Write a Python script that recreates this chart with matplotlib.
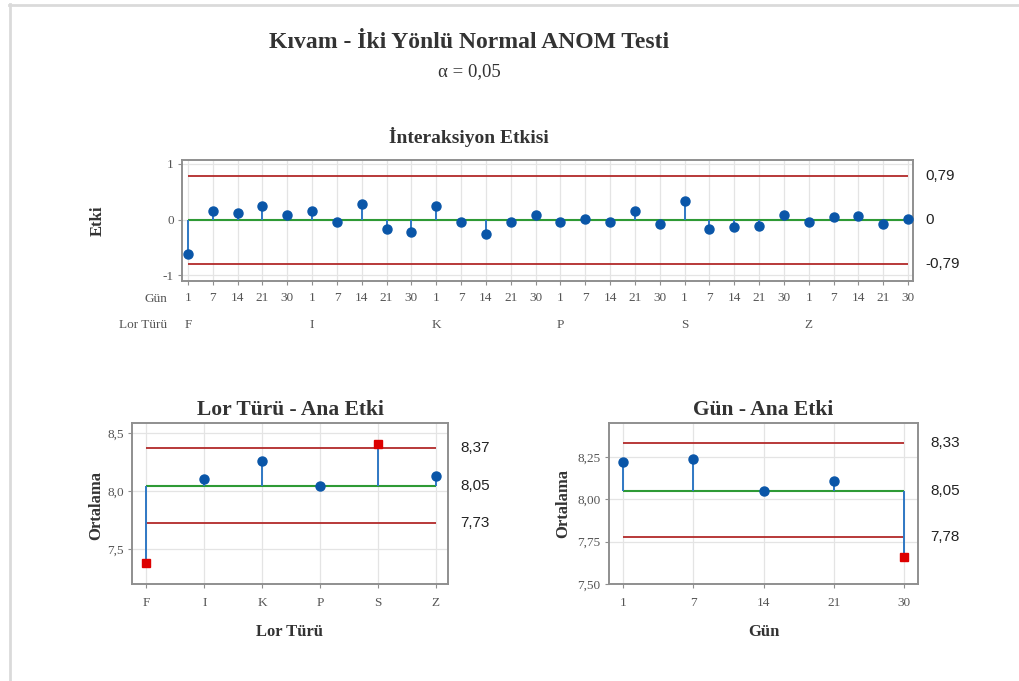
import matplotlib
matplotlib.use("Agg")
import matplotlib.pyplot as plt
from matplotlib.lines import Line2D
import numpy as np

plt.rcParams["font.family"] = ["Liberation Serif", "DejaVu Serif"]

W, H = 1019, 681

# interaction effects (Lor Türü x Gün)
lor_types = ["F", "I", "K", "P", "S", "Z"]
days = ["1", "7", "14", "21", "30"]
interaction = [
    -0.62, 0.15, 0.12, 0.25, 0.09,   # F
    0.15, -0.04, 0.28, -0.17, -0.23,  # I
    0.25, -0.04, -0.26, -0.04, 0.09,  # K
    -0.04, 0.02, -0.04, 0.15, -0.07,  # P
    0.34, -0.17, -0.14, -0.11, 0.09,  # S
    -0.04, 0.05, 0.06, -0.07, 0.02,   # Z
]
inter_limit = 0.79

# main effect means
lor_means = [7.38, 8.11, 8.26, 8.05, 8.41, 8.13]
lor_center, lor_udl, lor_ldl = 8.05, 8.37, 7.73

day_means = [8.22, 8.24, 8.05, 8.11, 7.66]
day_center, day_udl, day_ldl = 8.05, 8.33, 7.78

BLUE = "#0a56a8"
STEM = "#2f78c4"
RED_LINE = "#b22a2a"
GREEN = "#2e9a35"
RED_PT = "#dd0000"
GRID = "#e4e4e4"
FRAME = "#8f8f8f"
TICK_TXT = "#555555"
TXT = "#333333"
TICK_FS = 9.5


def px_axes(fig, x0, y0, x1, y1):
    return fig.add_axes([x0 / W, 1 - y1 / H, (x1 - x0) / W, (y1 - y0) / H])


def style_axes(ax):
    for s in ax.spines.values():
        s.set_color(FRAME)
        s.set_linewidth(1.4)
    ax.tick_params(colors=FRAME, labelcolor=TICK_TXT, labelsize=TICK_FS,
                   length=3, width=0.8, pad=3)
    ax.tick_params(axis="x", pad=6)
    ax.grid(True, color=GRID, linewidth=0.9)
    ax.set_axisbelow(True)


def right_label(ax, y, text):
    ax.annotate(text, xy=(1, y), xycoords=("axes fraction", "data"),
                xytext=(9, 0), textcoords="offset points", va="center",
                ha="left", fontsize=11, color="#222222",
                family=["Liberation Sans", "DejaVu Sans"])


def anom_panel(ax, values, center, udl, ldl):
    x = np.arange(len(values))
    v = np.asarray(values)
    out = (v > udl) | (v < ldl)
    ax.hlines([udl, ldl], x[0], x[-1], color=RED_LINE, lw=1.3, zorder=2)
    ax.hlines(center, x[0], x[-1], color=GREEN, lw=1.5, zorder=2)
    ax.vlines(x, center, v, color=STEM, lw=1.4, zorder=3)
    ax.plot(x[~out], v[~out], "o", color=BLUE, ms=6.5, zorder=4)
    ax.plot(x[out], v[out], "s", color=RED_PT, ms=6, zorder=4)
    return x


fig = plt.figure(figsize=(W / 100, H / 100), dpi=100)

# light page border
fig.add_artist(Line2D([9.5 / W, 9.5 / W], [0, 1 - 4 / H], transform=fig.transFigure,
                      color="#dadada", lw=2))
fig.add_artist(Line2D([9 / W, 1], [1 - 4.5 / H, 1 - 4.5 / H], transform=fig.transFigure,
                      color="#dadada", lw=2))

fig.text(469 / W, 1 - 42 / H, "Kıvam - İki Yönlü Normal ANOM Testi",
         ha="center", va="center", fontsize=17, fontweight="bold", color=TXT)
fig.text(469 / W, 1 - 72 / H, "α = 0,05", ha="center", va="center",
         fontsize=13.5, color=TXT)
fig.text(469 / W, 1 - 137 / H, "İnteraksiyon Etkisi", ha="center", va="center",
         fontsize=14, fontweight="bold", color=TXT)

# interaction panel
ax = px_axes(fig, 182, 160, 913, 281)
style_axes(ax)
x = anom_panel(ax, interaction, 0.0, inter_limit, -inter_limit)
ax.set_xlim(-0.24, len(interaction) - 1 + 0.2)
ax.set_ylim(-1.1, 1.07)
ax.set_yticks([-1, 0, 1])
ax.set_yticklabels(["-1", "0", "1"])
ax.set_xticks(x)
ax.set_xticklabels(days * len(lor_types))
ax.tick_params(axis="x", pad=5)
ax.set_ylabel("Etki", fontsize=12, fontweight="bold", color=TXT)
ax.yaxis.set_label_coords(-0.104, 0.5)
row_tf = ax.get_xaxis_transform()
ax.text(-0.02, -0.15, "Gün", transform=ax.transAxes, ha="right", va="center",
        fontsize=TICK_FS, color=TICK_TXT)
ax.text(-0.02, -0.36, "Lor Türü", transform=ax.transAxes, ha="right", va="center",
        fontsize=TICK_FS, color=TICK_TXT)
for i, lt in enumerate(lor_types):
    ax.text(i * len(days), -0.36, lt, transform=row_tf, ha="center", va="center",
            fontsize=TICK_FS, color=TICK_TXT)
right_label(ax, inter_limit, "0,79")
right_label(ax, 0, "0")
right_label(ax, -inter_limit, "-0,79")

# Lor Türü main effect
ax = px_axes(fig, 132, 423, 448, 584)
style_axes(ax)
x = anom_panel(ax, lor_means, lor_center, lor_udl, lor_ldl)
ax.set_xlim(-0.25, len(lor_means) - 1 + 0.21)
ax.set_ylim(7.2, 8.59)
ax.set_yticks([7.5, 8.0, 8.5])
ax.set_yticklabels(["7,5", "8,0", "8,5"])
ax.set_xticks(x)
ax.set_xticklabels(lor_types)
ax.set_title("Lor Türü - Ana Etki", fontsize=15.5, fontweight="bold", color=TXT, pad=6)
ax.set_ylabel("Ortalama", fontsize=12, fontweight="bold", color=TXT)
ax.yaxis.set_label_coords(-0.089, 0.49)
ax.set_xlabel("Lor Türü", fontsize=12, fontweight="bold", color=TXT)
ax.xaxis.set_label_coords(0.5, -0.248)
right_label(ax, lor_udl, "8,37")
right_label(ax, lor_center, "8,05")
right_label(ax, lor_ldl, "7,73")

# Gün main effect
ax = px_axes(fig, 609, 423, 918, 584)
style_axes(ax)
x = anom_panel(ax, day_means, day_center, day_udl, day_ldl)
ax.set_xlim(-0.2, len(day_means) - 1 + 0.2)
ax.set_ylim(7.5, 8.45)
ax.set_yticks([7.5, 7.75, 8.0, 8.25])
ax.set_yticklabels(["7,50", "7,75", "8,00", "8,25"])
ax.set_xticks(x)
ax.set_xticklabels(days)
ax.set_title("Gün - Ana Etki", fontsize=15.5, fontweight="bold", color=TXT, pad=6)
ax.set_ylabel("Ortalama", fontsize=12, fontweight="bold", color=TXT)
ax.yaxis.set_label_coords(-0.123, 0.5)
ax.set_xlabel("Gün", fontsize=12, fontweight="bold", color=TXT)
ax.xaxis.set_label_coords(0.5, -0.248)
right_label(ax, day_udl, "8,33")
right_label(ax, day_center, "8,05")
right_label(ax, day_ldl, "7,78")

fig.savefig("out.png", dpi=100)
